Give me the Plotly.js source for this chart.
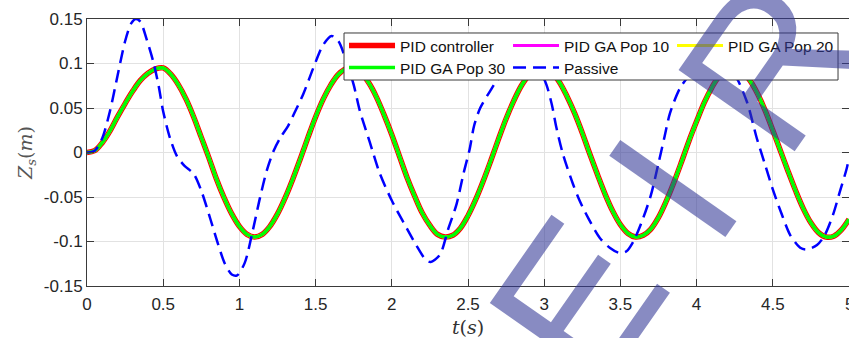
<!DOCTYPE html>
<html>
<head>
<meta charset="utf-8">
<script src="https://cdn.plot.ly/plotly-3.0.1.min.js"></script>
<style>html,body{margin:0;padding:0;background:#fff;}#chart{width:849px;height:338px;}</style>
</head>
<body>
<div id="chart"></div>
<script>
// time samples (s) for the controlled responses
const tControlled = [0,0.05,0.1,0.15,0.2,0.25,0.3,0.35,0.4,0.45,0.5,0.55,0.6,0.65,0.7,0.75,0.8,0.85,0.9,0.95,
  1,1.05,1.1,1.15,1.2,1.25,1.3,1.35,1.4,1.45,1.5,1.55,1.6,1.65,1.7,1.75,1.8,1.85,1.9,1.95,
  2,2.05,2.1,2.15,2.2,2.25,2.3,2.35,2.4,2.45,2.5,2.55,2.6,2.65,2.7,2.75,2.8,2.85,2.9,2.95,
  3,3.05,3.1,3.15,3.2,3.25,3.3,3.35,3.4,3.45,3.5,3.55,3.6,3.65,3.7,3.75,3.8,3.85,3.9,3.95,
  4,4.05,4.1,4.15,4.2,4.25,4.3,4.35,4.4,4.45,4.5,4.55,4.6,4.65,4.7,4.75,4.8,4.85,4.9,4.95,5];
// Zs (m) of the PID-controlled suspension (all controllers overlap)
const zPid = [0,0.002,0.011,0.024,0.040,0.055,0.069,0.081,0.089,0.094,0.095,0.088,0.076,0.060,0.040,0.017,-0.006,-0.030,-0.051,-0.069,
  -0.083,-0.092,-0.095,-0.092,-0.083,-0.069,-0.051,-0.030,-0.007,0.017,0.040,0.060,0.076,0.088,0.094,0.094,0.089,0.078,0.062,0.042,
  0.020,-0.004,-0.028,-0.049,-0.068,-0.082,-0.092,-0.095,-0.093,-0.085,-0.071,-0.053,-0.032,-0.009,0.015,0.038,0.058,0.075,0.087,0.094,
  0.095,0.090,0.079,0.063,0.044,0.022,-0.002,-0.025,-0.047,-0.066,-0.081,-0.091,-0.095,-0.093,-0.086,-0.073,-0.055,-0.034,-0.011,0.013,
  0.035,0.056,0.073,0.086,0.093,0.095,0.091,0.081,0.066,0.047,0.025,0.002,-0.021,-0.043,-0.063,-0.079,-0.090,-0.095,-0.094,-0.087,-0.075];
const zGaPop10 = zPid.slice();
const zGaPop20 = zPid.slice();
const zGaPop30 = zPid.slice();

// passive suspension
const tPassive = [0,0.05,0.1,0.15,0.2,0.25,0.29,0.32,0.35,0.39,0.435,0.47,0.5,0.545,0.59,0.64,0.7,0.75,0.81,0.86,
  0.905,0.95,0.985,1.035,1.09,1.135,1.18,1.225,1.27,1.32,1.36,1.42,1.485,1.55,1.605,1.65,1.695,1.75,1.79,1.855,
  1.92,2.0,2.075,2.16,2.225,2.255,2.315,2.37,2.425,2.47,2.51,2.54,2.58,2.645,2.69,2.75,2.85,2.93,2.985,3.015,
  3.05,3.08,3.125,3.19,3.235,3.29,3.365,3.43,3.495,3.54,3.585,3.64,3.7,3.75,3.79,3.825,3.89,3.955,4.02,4.1,
  4.18,4.25,4.33,4.395,4.45,4.505,4.56,4.615,4.68,4.72,4.79,4.84,4.895,4.94,4.985,5.0];
const zPassive = [0,0.002,0.016,0.046,0.086,0.125,0.145,0.150,0.147,0.128,0.102,0.075,0.046,0.016,-0.004,-0.015,-0.024,-0.043,-0.075,-0.103,
  -0.125,-0.137,-0.138,-0.124,-0.086,-0.051,-0.020,0.002,0.017,0.030,0.044,0.066,0.095,0.121,0.131,0.125,0.106,0.076,0.047,0.012,
  -0.023,-0.054,-0.078,-0.104,-0.121,-0.123,-0.115,-0.086,-0.058,-0.024,0.003,0.030,0.050,0.069,0.081,0.092,0.102,0.097,0.087,0.076,
  0.054,0.028,-0.003,-0.036,-0.055,-0.074,-0.096,-0.107,-0.113,-0.111,-0.100,-0.078,-0.048,-0.012,0.018,0.044,0.072,0.087,0.095,0.099,
  0.096,0.087,0.057,0.016,-0.014,-0.044,-0.070,-0.093,-0.107,-0.109,-0.104,-0.093,-0.070,-0.044,-0.018,-0.006];

const seriesNames = ['PID controller','PID GA Pop 10','PID GA Pop 20','PID GA Pop 30','Passive'];
const xTickVals = [0,0.5,1,1.5,2,2.5,3,3.5,4,4.5];
const xTickText = ['0','0.5','1','1.5','2','2.5','3','3.5','4','4.5'];
const xLastTick = '5';
const yTickVals = [-0.15,-0.1,-0.05,0,0.05,0.1,0.15];
const yTickText = ['-0.15','-0.1','-0.05','0','0.05','0.1','0.15'];
const watermarkLetters = ['E','I','R'];

const sans = 'Liberation Sans, Arial, Helvetica, sans-serif';
const serif = 'DejaVu Serif, Liberation Serif, serif';

const traces = [
  {x:tControlled, y:zPid, name:seriesNames[0], legend:'legend', mode:'lines', line:{color:'#ff0000', width:5.5, shape:'spline'}},
  {x:tControlled, y:zGaPop10, name:seriesNames[1], legend:'legend', mode:'lines', line:{color:'#ff00ff', width:3, shape:'spline'}},
  {x:tControlled, y:zGaPop20, name:seriesNames[2], legend:'legend', mode:'lines', line:{color:'#ffff00', width:3, shape:'spline'}},
  {x:tControlled, y:zGaPop30, name:seriesNames[3], legend:'legend2', mode:'lines', line:{color:'#00ff00', width:3.5, shape:'spline'}},
  {x:tPassive, y:zPassive, name:seriesNames[4], legend:'legend2', mode:'lines', line:{color:'#0000ff', width:2.5, dash:'13px,7px', shape:'spline', smoothing:0.8}}
];

const axisCommon = {
  showline:true, linecolor:'#3a3a3a', linewidth:1, mirror:'ticks',
  ticks:'inside', ticklen:7, tickcolor:'#3a3a3a', tickwidth:1,
  showgrid:true, gridcolor:'#e2e2e2', gridwidth:1, zeroline:false,
  tickfont:{family:sans, size:17, color:'#262626'}, fixedrange:true
};

const wmPos = [[0.644,-0.057],[0.769,0.367],[0.896,0.835]];
const annotations = watermarkLetters.map((L,i)=>({
  text:L, xref:'paper', yref:'paper', x:wmPos[i][0], y:wmPos[i][1],
  xanchor:'center', yanchor:'middle', showarrow:false, textangle:-55,
  font:{family:sans, size:206, color:'rgba(50,55,150,0.58)'}
}));
annotations.unshift({text:xLastTick, xref:'x', yref:'paper', x:5, y:-0.027, xanchor:'center', yanchor:'top',
  showarrow:false, font:{family:sans, size:17, color:'#262626'}});

const legendCommon = {xanchor:'left', yanchor:'top', orientation:'h', bgcolor:'rgba(0,0,0,0)', borderwidth:0,
  font:{family:sans, size:15.5, color:'#111'}, itemwidth:46, entrywidth:103, traceorder:'normal'};

const layout = {
  width:849, height:338,
  margin:{l:87, r:0, t:19, b:52, pad:0},
  paper_bgcolor:'#ffffff', plot_bgcolor:'#ffffff',
  showlegend:true,
  xaxis:Object.assign({}, axisCommon, {range:[0,5], tickvals:xTickVals, ticktext:xTickText, ticklabelstandoff:3,
    title:{text:'<i>t</i>(<i>s</i>)', font:{family:serif, size:19, color:'#333'}, standoff:9}}),
  yaxis:Object.assign({}, axisCommon, {range:[-0.15,0.15], tickvals:yTickVals, ticktext:yTickText,
    title:{text:'<i>Z<sub>s</sub></i>(<i>m</i>)', font:{family:serif, size:19, color:'#555'}, standoff:6}}),
  legend:Object.assign({}, legendCommon, {x:0.3373, y:0.963}),
  legend2:Object.assign({}, legendCommon, {x:0.3373, y:0.880}),
  shapes:[{type:'rect', xref:'paper', yref:'paper', x0:0.3373, x1:0.9856, y0:0.7715, y1:0.9476,
    fillcolor:'#ffffff', line:{color:'#3a3a3a', width:1}, layer:'above'}],
  annotations:annotations
};

Plotly.newPlot('chart', traces, layout, {staticPlot:true, displayModeBar:false});
</script>
</body>
</html>
